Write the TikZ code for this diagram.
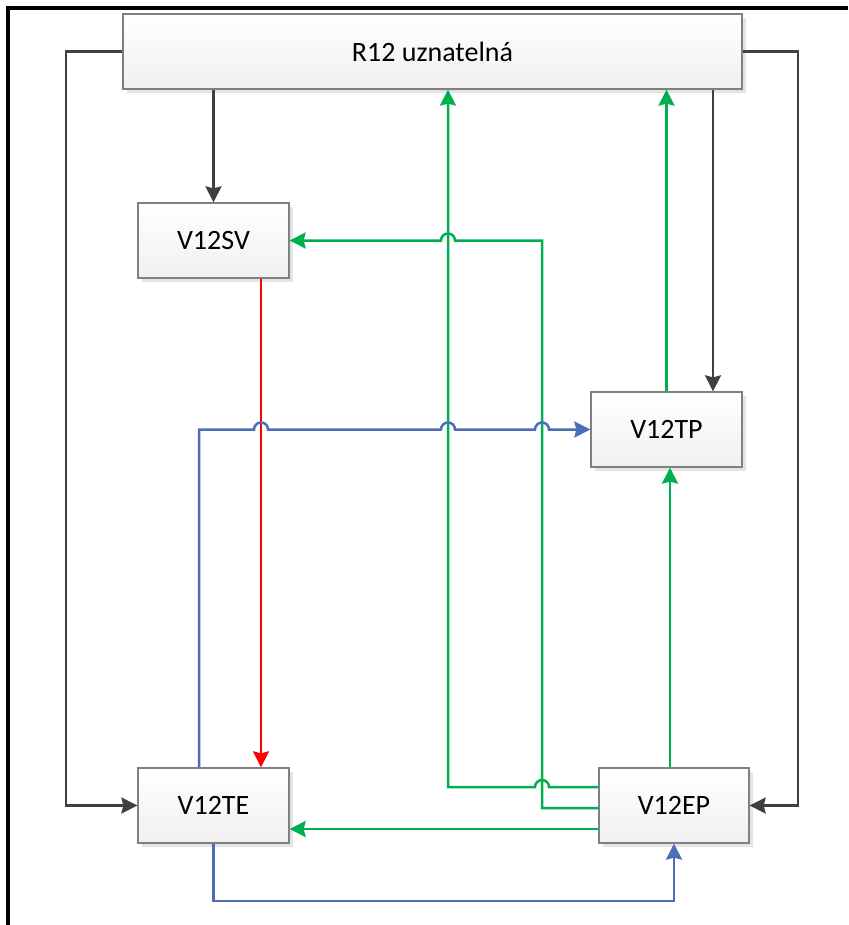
\documentclass[tikz,border=0pt]{standalone}
\usepackage{fontspec}
\setmainfont{Carlito}
\usetikzlibrary{arrows.meta,shadows}
\definecolor{cdark}{HTML}{404040}
\definecolor{cgreen}{HTML}{00B050}
\definecolor{cred}{HTML}{FF0000}
\definecolor{cblue}{HTML}{4E6DB8}
\definecolor{boxgray}{HTML}{808080}
\definecolor{boxbot}{HTML}{F0F0F0}
\definecolor{shad}{HTML}{E4E4E4}
\tikzset{
  box/.style={draw=boxgray, line width=1.3pt, top color=white, bottom color=boxbot,
    minimum height=75pt, inner sep=0pt, font=\fontsize{28}{34}\selectfont,
    drop shadow={shadow xshift=4pt, shadow yshift=-4pt, fill=shad, opacity=1}},
  conn/.style={line width=2.5pt, -{Stealth[length=16pt,width=16pt,inset=2pt]}},
  hop/.style={radius=7pt}
}
\begin{document}
\begin{tikzpicture}[x=1pt,y=1pt]
\useasboundingbox (0,0) rectangle (848,-925);
\fill[white] (0,0) rectangle (848,-925);
\draw[line width=3.5pt] (8,-925) -- (8,-8) -- (848,-8);

\node[box, minimum width=619pt] (R12) at (432.5,-51.5) {R12 uznatelná};
\node[box, minimum width=151pt] (V12SV) at (213.5,-240.5) {V12SV};
\node[box, minimum width=151pt] (V12TP) at (666.5,-429.5) {V12TP};
\node[box, minimum width=151pt] (V12TE) at (213.5,-805.5) {V12TE};
\node[box, minimum width=150pt] (V12EP) at (674,-805.5) {V12EP};

\coordinate (c66) at (66,0);
\coordinate (c798) at (798,0);
\coordinate (c713) at (713,0);
\coordinate (c199) at (199,0);
\coordinate (c261) at (261,0);
\coordinate (c448) at (448,0);
\coordinate (c542) at (542,0);
\coordinate (c670) at (670,0);
\coordinate (r787) at (0,-787);
\coordinate (r808) at (0,-808);
\coordinate (r829) at (0,-829);
\coordinate (r901) at (0,-901);

% dark connectors
\draw[conn,cdark] (R12.west) -- (c66 |- R12.west) -- (c66 |- V12TE.west) -- (V12TE.west);
\draw[conn,cdark] (R12.east) -- (c798 |- R12.east) -- (c798 |- V12EP.east) -- (V12EP.east);
\draw[conn,cdark] (R12.south -| V12SV.north) -- (V12SV.north);
\draw[conn,cdark] (R12.south -| c713) -- (V12TP.north -| c713);

% red
\draw[conn,cred] (V12SV.south -| c261) -- (V12TE.north -| c261);

% green
\draw[conn,cgreen] (V12EP.west |- r787) -- (549,-787) arc[start angle=0,end angle=180,hop] -- (c448 |- r787) -- (R12.south -| c448);
\draw[conn,cgreen] (V12EP.west |- r808) -- (c542 |- r808) -- (c542 |- V12SV.east) -- (455,-240.5) arc[start angle=0,end angle=180,hop] -- (V12SV.east);
\draw[conn,cgreen] (V12EP.west |- r829) -- (V12TE.east |- r829);
\draw[conn,cgreen] (V12EP.north -| c670) -- (V12TP.south -| c670);
\draw[conn,cgreen] (V12TP.north) -- (R12.south -| V12TP.north);

% blue
\draw[conn,cblue] (V12TE.north -| c199) -- (c199 |- V12TP.west) -- (254,-429.5) arc[start angle=180,end angle=0,hop] -- (441,-429.5) arc[start angle=180,end angle=0,hop] -- (535,-429.5) arc[start angle=180,end angle=0,hop] -- (V12TP.west);
\draw[conn,cblue] (V12TE.south) -- (V12TE.south |- r901) -- (V12EP.south |- r901) -- (V12EP.south);
\end{tikzpicture}
\end{document}
